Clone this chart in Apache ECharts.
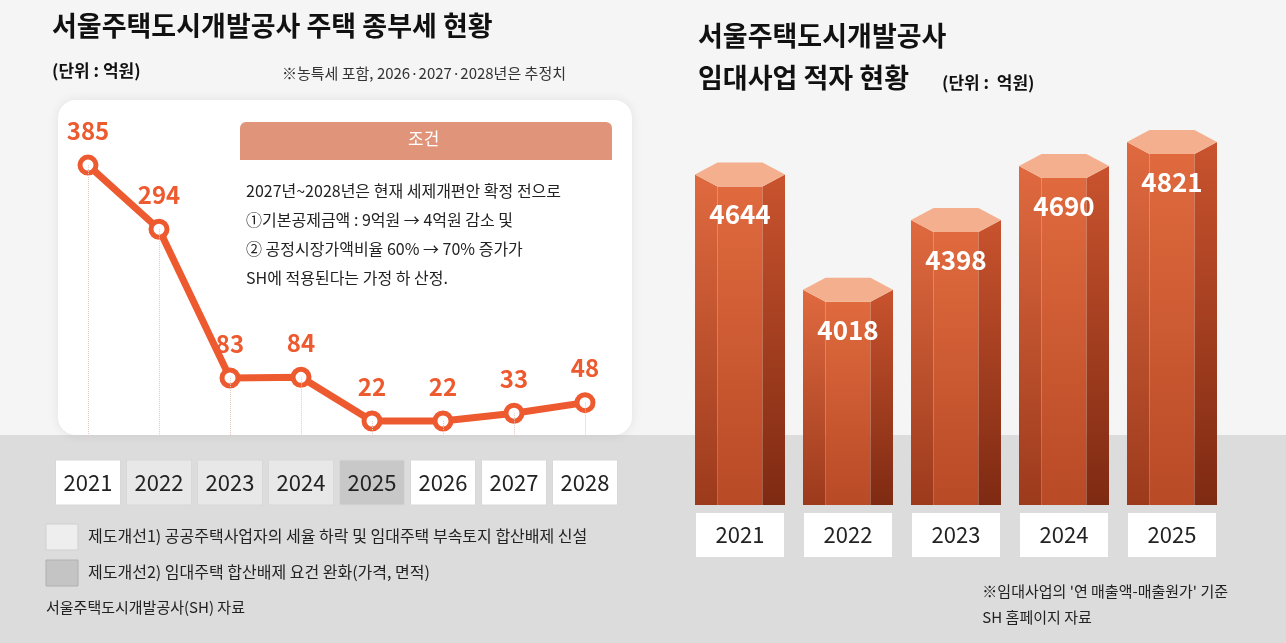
<!DOCTYPE html>
<html><head><meta charset="utf-8">
<script src="https://cdn.jsdelivr.net/npm/echarts@6/dist/echarts.min.js"></script>
<style>html,body{margin:0;padding:0;background:#f4f4f4}#c{width:1286px;height:643px}</style>
</head><body><div id="c"></div>
<script>
var taxYears = ['2021','2022','2023','2024','2025','2026','2027','2028'];
var taxValues = [385, 294, 83, 84, 22, 22, 33, 48];
var deficitYears = ['2021','2022','2023','2024','2025'];
var deficitValues = [4644, 4018, 4398, 4690, 4821];

var F = '"Noto Sans CJK KR", sans-serif';
var chart = echarts.init(document.getElementById('c'));

function labelStyle(bg) {
  return {backgroundColor: bg, borderColor: '#d8d8d8', borderWidth: 1, width: 64, height: 44,
    align: 'center', lineHeight: 44, fontSize: 22, color: '#222', fontFamily: F};
}

chart.setOption({
  backgroundColor: '#f5f5f5',
  graphic: [
    {type: 'rect', shape: {x: 0, y: 435, width: 1286, height: 208}, style: {fill: '#dcdcdc'}, z: -10},
    {type: 'rect', shape: {x: 58, y: 100, width: 574, height: 335, r: 18}, style: {fill: '#ffffff', shadowBlur: 12, shadowColor: 'rgba(0,0,0,0.08)'}, z: -5},
    {type: 'text', left: 52, top: 12, style: {text: '서울주택도시개발공사 주택 종부세 현황', font: 'bold 27px ' + F, fill: '#111'}},
    {type: 'text', left: 52, top: 62, style: {text: '(단위 : 억원)', font: 'bold 17px ' + F, fill: '#111'}},
    {type: 'text', left: 282, top: 66, style: {text: '※농특세 포함, 2026·2027·2028년은 추정치', font: '15px ' + F, fill: '#333'}},
    {type: 'rect', shape: {x: 240, y: 122, width: 372, height: 38, r: [6, 6, 0, 0]}, style: {fill: '#e0957a'}},
    {type: 'text', left: 408, top: 130, style: {text: '조건', font: '17px ' + F, fill: '#fff'}},
    {type: 'text', left: 246, top: 176, style: {text: '2027년~2028년은 현재 세제개편안 확정 전으로\n①기본공제금액 : 9억원 → 4억원 감소 및\n② 공정시장가액비율 60% → 70% 증가가\nSH에 적용된다는 가정 하 산정.', font: '16px ' + F, fill: '#222', lineHeight: 29}},
    {type: 'rect', shape: {x: 46, y: 524, width: 32, height: 26}, style: {fill: '#eeeeee', stroke: '#cfcfcf'}},
    {type: 'text', left: 88, top: 528, style: {text: '제도개선1) 공공주택사업자의 세율 하락 및 임대주택 부속토지 합산배제 신설', font: '16px ' + F, fill: '#222'}},
    {type: 'rect', shape: {x: 46, y: 560, width: 32, height: 26}, style: {fill: '#c4c4c4', stroke: '#b0b0b0'}},
    {type: 'text', left: 88, top: 564, style: {text: '제도개선2) 임대주택 합산배제 요건 완화(가격, 면적)', font: '16px ' + F, fill: '#222'}},
    {type: 'text', left: 46, top: 600, style: {text: '서울주택도시개발공사(SH) 자료', font: '15px ' + F, fill: '#222'}},
    {type: 'text', left: 698, top: 22, style: {text: '서울주택도시개발공사', font: 'bold 27px ' + F, fill: '#111'}},
    {type: 'text', left: 698, top: 64, style: {text: '임대사업 적자 현황', font: 'bold 27px ' + F, fill: '#111'}},
    {type: 'text', left: 942, top: 74, style: {text: '(단위 :  억원)', font: 'bold 17px ' + F, fill: '#111'}},
    {type: 'text', right: 58, top: 578, style: {text: '※임대사업의 \'연 매출액-매출원가\' 기준\nSH 홈페이지 자료', font: '15px ' + F, fill: '#222', align: 'right', lineHeight: 26}}
  ],
  grid: [
    {left: 52.5, width: 568, top: 154.5, bottom: 206.5},
    {left: 686, width: 540, top: 109, bottom: 138}
  ],
  xAxis: [
    {gridIndex: 0, type: 'category', data: taxYears, axisLine: {show: false}, axisTick: {show: false},
      splitLine: {show: false},
      axisLabel: {margin: 24, formatter: function (v, i) {
        var k = (i >= 1 && i <= 3) ? 'g' : (i === 4 ? 'd' : 'w'); return '{' + k + '|' + v + '}'; },
        rich: {w: labelStyle('#ffffff'), g: labelStyle('#e8e8e8'), d: labelStyle('#c8c8c8')}}},
    {gridIndex: 1, type: 'category', data: deficitYears, axisLine: {show: false}, axisTick: {show: false},
      axisLabel: {margin: 8, formatter: function (v) { return '{w|' + v + '}'; },
        rich: {w: {backgroundColor: '#fff', width: 88, height: 44, lineHeight: 44, align: 'center', fontSize: 22, color: '#222', fontFamily: F}}}}
  ],
  yAxis: [
    {gridIndex: 0, type: 'value', min: 0, max: 400, show: false, splitLine: {show: false}},
    {gridIndex: 1, type: 'value', min: 2850, max: 5000, show: false, splitLine: {show: false}}
  ],
  series: [
    {type: 'line', xAxisIndex: 0, yAxisIndex: 0, data: taxValues, symbol: 'circle', symbolSize: 16,
      lineStyle: {color: '#ee5a2f', width: 7}, itemStyle: {color: '#ffffff', borderColor: '#ee5a2f', borderWidth: 5},
      label: {show: true, position: 'top', distance: 12, fontSize: 24, fontWeight: 'bold', color: '#ee5a2f', fontFamily: F},
      markLine: {symbol: 'none', silent: true, label: {show: false}, lineStyle: {color: '#e0c8c0', type: 'dotted', width: 1},
        data: taxYears.map(function (y, i) { return [{coord: [y, taxValues[i]]}, {coord: [y, 0]}]; })}},
    {type: 'custom', xAxisIndex: 1, yAxisIndex: 1, data: deficitValues.map(function (v, i) { return [i, v]; }),
      renderItem: function (params, api) {
        var top = api.coord([api.value(0), api.value(1)]);
        var base = api.coord([api.value(0), 2850]);
        var w = 90, cx = top[0], hw = w / 2, q = w * 0.25, d = 12;
        var ty = top[1], by = base[1];
        return {type: 'group', children: [
          {type: 'polygon', shape: {points: [[cx - hw, ty], [cx - q, ty + d], [cx - q, by], [cx - hw, by]]},
            style: {fill: new echarts.graphic.LinearGradient(0, 0, 0, 1, [{offset: 0, color: '#e06a40'}, {offset: 1, color: '#9c3a1c'}])}},
          {type: 'polygon', shape: {points: [[cx - q, ty + d], [cx + q, ty + d], [cx + q, by], [cx - q, by]]},
            style: {fill: new echarts.graphic.LinearGradient(0, 0, 0, 1, [{offset: 0, color: '#e06a3e'}, {offset: 1, color: '#b84a26'}])}},
          {type: 'polygon', shape: {points: [[cx + q, ty + d], [cx + hw, ty], [cx + hw, by], [cx + q, by]]},
            style: {fill: new echarts.graphic.LinearGradient(0, 0, 0, 1, [{offset: 0, color: '#c9532e'}, {offset: 1, color: '#7e2a12'}])}},
          {type: 'polygon', shape: {points: [[cx - hw, ty], [cx - q, ty - d], [cx + q, ty - d], [cx + hw, ty], [cx + q, ty + d], [cx - q, ty + d]]},
            style: {fill: '#f4b08e'}},
          {type: 'text', style: {text: String(api.value(1)), x: cx, y: ty + 40, align: 'center', verticalAlign: 'middle',
            font: 'bold 26px ' + F, fill: '#fff'}}
        ]};
      }}
  ]
});
</script></body></html>
